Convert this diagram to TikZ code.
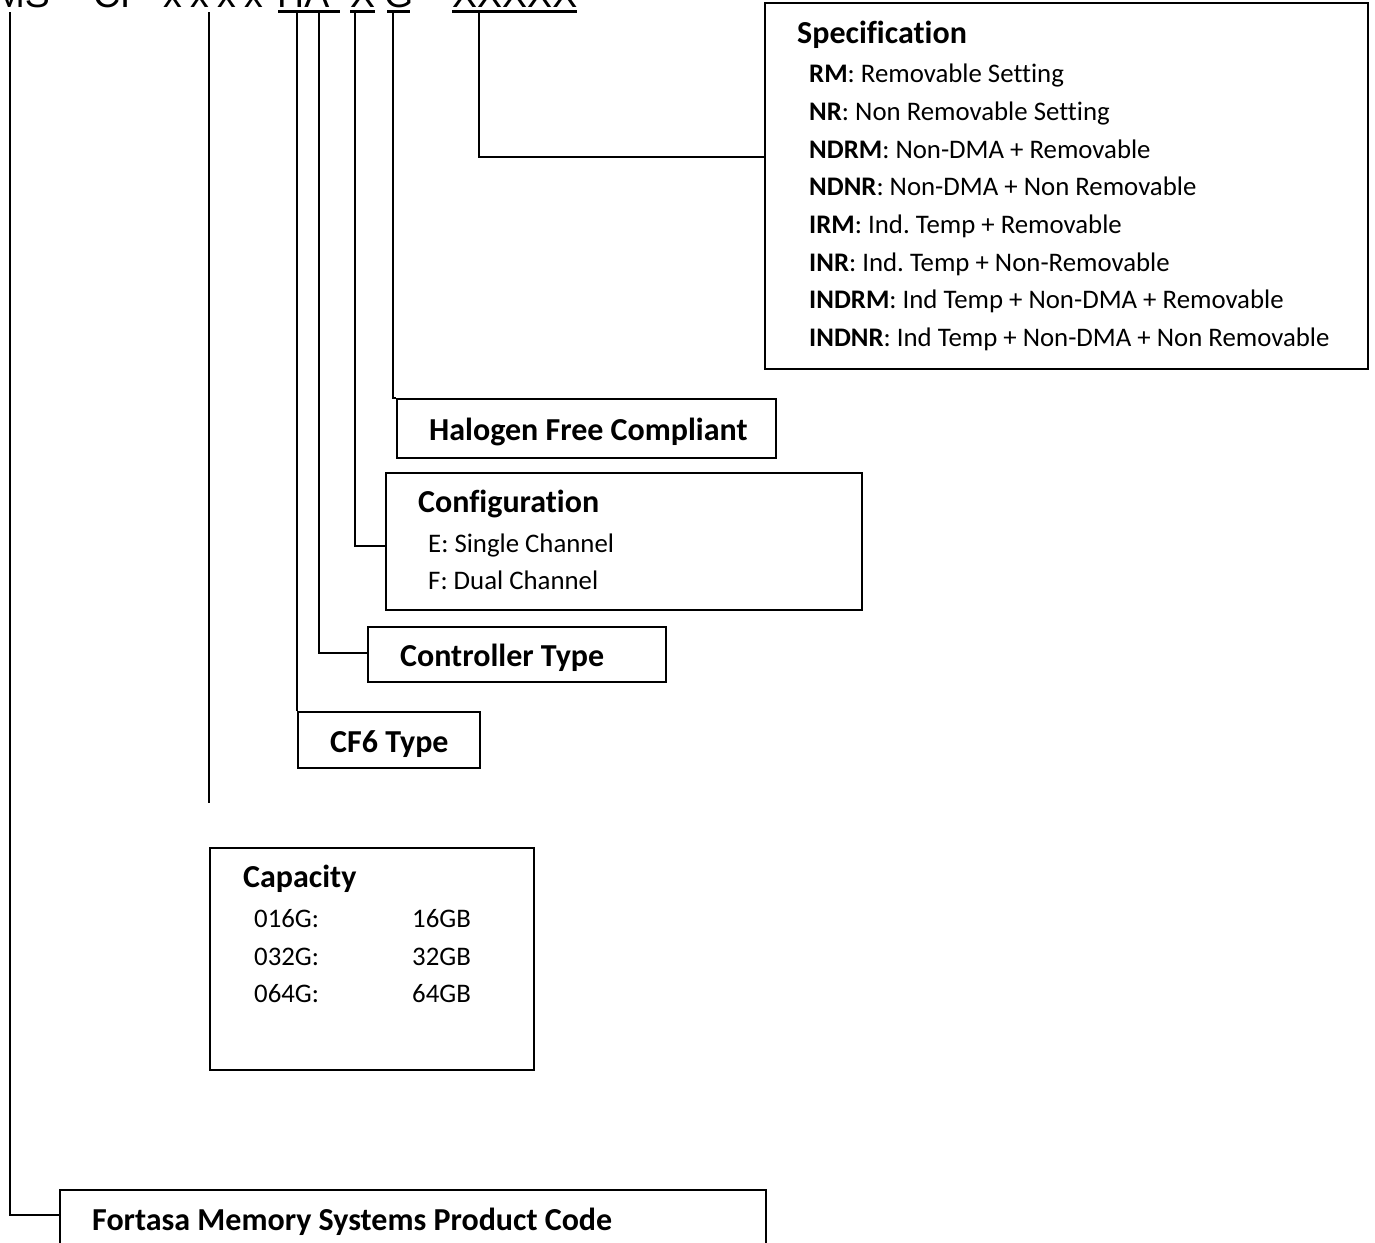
\documentclass[tikz,border=0pt]{standalone}
\usepackage{fontspec}
\setmainfont[Ligatures={NoCommon}]{Carlito}
\newfontfamily\hdrfont{Liberation Sans}
\usetikzlibrary{calc}
\frenchspacing
\begin{document}
\begin{tikzpicture}[x=1pt,y=-1pt,
  box/.style={draw, line width=1.8pt, anchor=north west, inner sep=0pt},
  ttl/.style={anchor=base west, inner sep=0pt, font=\fontsize{32}{36}\selectfont\bfseries},
  itm/.style={anchor=base west, inner sep=0pt, font=\fontsize{26.8}{30}\selectfont},
  hdr/.style={anchor=base west, inner sep=0pt, font=\fontsize{37.5}{40}\selectfont\hdrfont},
  conn/.style={line width=2pt},
  uline/.style={line width=3pt}]
\useasboundingbox (0,0) rectangle (1375,1242);
\clip (0,0) rectangle (1375,1242);

% header (clipped at the top)
\node[hdr, anchor=base east] (hMS) at (50,7) {MS};
\node[hdr] (hCF) at (93,7) {CF};
\node[hdr] (hx1) at (163,7) {x};
\node[hdr] (hx2) at (190,7) {x};
\node[hdr] (hx3) at (217,7) {x};
\node[hdr] (hx4) at (244,7) {x};
\node[hdr] (hHA) at (277,7) {HA};
\node[hdr] (hX) at (350,7) {X};
\node[hdr] (hG) at (384,7) {G};
\node[hdr] (hXX) at (452,7) {XXXXX};
\draw[uline] (278,11) -- (340,11);
\draw[uline] (350,11) -- (375,11);
\draw[uline] (387,11) -- (410,11);
\draw[uline] (452,11) -- (577,11);

% boxes
\node[box, minimum width=603pt, minimum height=366pt] (spec) at (764,2) {};
\node[box, minimum width=379pt, minimum height=59pt] (hal) at (396,398) {};
\node[box, minimum width=476pt, minimum height=137pt] (cfg) at (385,472) {};
\node[box, minimum width=298pt, minimum height=55pt] (ctl) at (367,626) {};
\node[box, minimum width=182pt, minimum height=56pt] (cf6) at (297,711) {};
\node[box, minimum width=324pt, minimum height=222pt] (cap) at (209,847) {};
\node[box, minimum width=706pt, minimum height=120pt] (prod) at (59,1189) {};

% texts
\node[ttl] (specT) at (797,43) {Specification};
\node[itm] (s1) at (809,82) {\textbf{RM}: Removable Setting};
\node[itm] (s2) at (809,120) {\textbf{NR}: Non Removable Setting};
\node[itm] (s3) at (809,158) {\textbf{NDRM}: Non-DMA + Removable};
\node[itm] (s4) at (809,195) {\textbf{NDNR}: Non-DMA + Non Removable};
\node[itm] (s5) at (809,233) {\textbf{IRM}: Ind. Temp + Removable};
\node[itm] (s6) at (809,271) {\textbf{INR}: Ind. Temp + Non-Removable};
\node[itm] (s7) at (809,308) {\textbf{INDRM}: Ind Temp + Non-DMA + Removable};
\node[itm] (s8) at (809,346) {\textbf{INDNR}: Ind Temp + Non-DMA + Non Removable};

\node[ttl] (halT) at (429,440) {Halogen Free Compliant};

\node[ttl] (cfgT) at (418,512) {Configuration};
\node[itm] (c1) at (428,552) {E: Single Channel};
\node[itm] (c2) at (428,589) {F: Dual Channel};

\node[ttl] (ctlT) at (400,666) {Controller Type};
\node[ttl] (cf6T) at (330,752) {CF6 Type};

\node[ttl] (capT) at (243,887) {Capacity};
\node[itm] (k1) at (254,927) {016G:};
\node[itm] (v1) at (412,927) {16GB};
\node[itm] (k2) at (254,965) {032G:};
\node[itm] (v2) at (412,965) {32GB};
\node[itm] (k3) at (254,1002) {064G:};
\node[itm] (v3) at (412,1002) {64GB};

\node[ttl] (prodT) at (92,1230) {Fortasa Memory Systems Product Code};

% connectors
\coordinate (pXX) at (479,12);
\coordinate (pG) at (393,12);
\coordinate (pX) at (355,12);
\coordinate (pA) at (319,12);
\coordinate (pH) at (297,12);
\coordinate (pcap) at (209,12);
\coordinate (capend) at (209,803);
\coordinate (pMS) at (10,12);
\draw[conn] (pXX) |- ($(spec.north west)+(0,155)$);
\draw[conn] (pG) |- (hal.north west);
\draw[conn] (pX) |- ($(cfg.north west)+(0,74)$);
\draw[conn] (pA) |- ($(ctl.north west)+(0,27)$);
\draw[conn] (pH) -- (cf6.north west);
\draw[conn] (pcap) -- (capend);
\draw[conn] (pMS) |- ($(prod.north west)+(0,26)$);
\end{tikzpicture}
\end{document}
